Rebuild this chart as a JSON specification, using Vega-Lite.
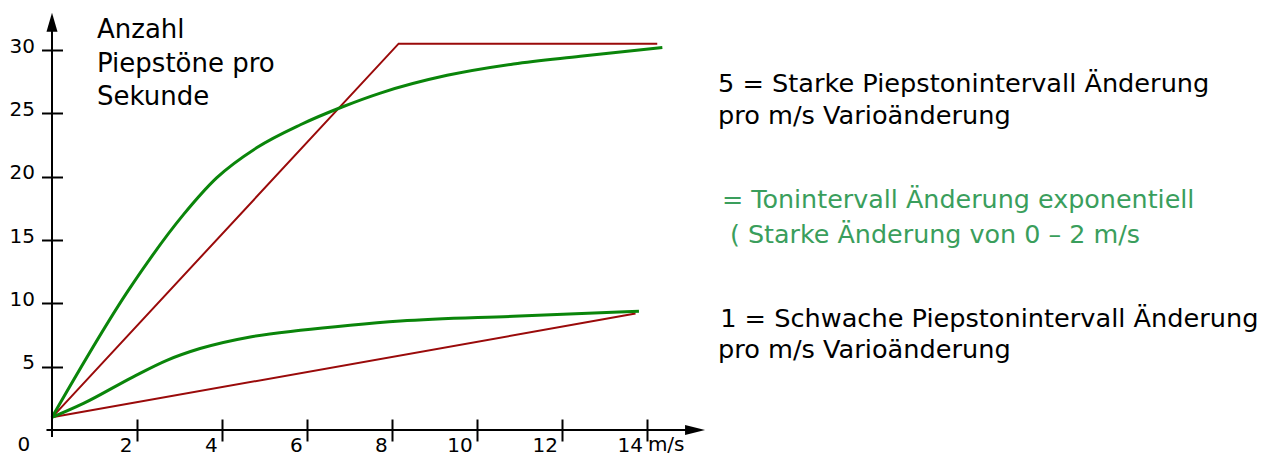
{
  "$schema": "https://vega.github.io/schema/vega-lite/v6.json",
  "width": 655,
  "height": 418,
  "autosize": {"type": "none"},
  "padding": {"left": 52, "top": 12, "right": 570, "bottom": 25},
  "background": "white",
  "config": {"view": {"stroke": null}},
  "datasets": {
    "axes": [
      {"x": 0, "x2": 0, "y": -0.55, "y2": 32.2},
      {"x": -0.13, "x2": 15.12, "y": 0, "y2": 0}
    ],
    "red": [
      {"series": "5 linear", "v": 0, "n": 1},
      {"series": "5 linear", "v": 8.15, "n": 30.5},
      {"series": "5 linear", "v": 14.23, "n": 30.5},
      {"series": "1 linear", "v": 0, "n": 1},
      {"series": "1 linear", "v": 13.72, "n": 9.19}
    ],
    "green": [
      {"series": "5 exp", "v": 0, "n": 1},
      {"series": "5 exp", "v": 1.83, "n": 11.2},
      {"series": "5 exp", "v": 3.09, "n": 17.0},
      {"series": "5 exp", "v": 3.87, "n": 19.9},
      {"series": "5 exp", "v": 4.82, "n": 22.3},
      {"series": "5 exp", "v": 5.84, "n": 24.1},
      {"series": "5 exp", "v": 6.82, "n": 25.5},
      {"series": "5 exp", "v": 7.72, "n": 26.6},
      {"series": "5 exp", "v": 9.29, "n": 28.0},
      {"series": "5 exp", "v": 10.85, "n": 28.9},
      {"series": "5 exp", "v": 12.42, "n": 29.5},
      {"series": "5 exp", "v": 14.35, "n": 30.2},
      {"series": "1 exp", "v": 0, "n": 1},
      {"series": "1 exp", "v": 0.74, "n": 2.1},
      {"series": "1 exp", "v": 1.91, "n": 4.2},
      {"series": "1 exp", "v": 2.7, "n": 5.5},
      {"series": "1 exp", "v": 3.48, "n": 6.43},
      {"series": "1 exp", "v": 4.66, "n": 7.35},
      {"series": "1 exp", "v": 5.84, "n": 7.87},
      {"series": "1 exp", "v": 7.01, "n": 8.27},
      {"series": "1 exp", "v": 8.19, "n": 8.6},
      {"series": "1 exp", "v": 10.85, "n": 8.98},
      {"series": "1 exp", "v": 13.8, "n": 9.37}
    ],
    "yarrow": [{"x": 0, "y": 32.2}],
    "xarrow": [{"x": 15.12, "y": 0}],
    "leftText": [
      {"x": 1.058, "y": 30.95, "t": "Anzahl"},
      {"x": 1.058, "y": 28.3, "t": "Piepstöne pro"},
      {"x": 1.058, "y": 25.66, "t": "Sekunde"}
    ],
    "rightBlack": [
      {"x": 15.66, "y": 26.71, "t": "5 = Starke Piepstonintervall Änderung"},
      {"x": 15.66, "y": 24.16, "t": "pro m/s Varioänderung"},
      {"x": 15.71, "y": 8.16, "t": "1 = Schwache Piepstonintervall Änderung"},
      {"x": 15.66, "y": 5.71, "t": "pro m/s Varioänderung"}
    ],
    "rightGreen": [
      {"x": 15.75, "y": 17.5, "t": "= Tonintervall Änderung exponentiell"},
      {"x": 15.94, "y": 14.74, "t": "( Starke Änderung von 0 – 2 m/s"}
    ],
    "zeroText": [{"x": -0.66, "y": -1.66, "t": "0"}],
    "unitText": [{"x": 14.01, "y": -1.66, "t": "m/s"}]
  },
  "layer": [
    {
      "data": {"name": "red"},
      "mark": {"type": "line", "color": "#9a0a0a", "strokeWidth": 2, "interpolate": "linear"},
      "encoding": {
        "x": {
          "field": "v", "type": "quantitative",
          "scale": {"domain": [0, 15.4], "nice": false, "zero": false},
          "axis": {
            "orient": "bottom", "offset": -11, "domain": false, "grid": false,
            "values": [2, 4, 6, 8, 10, 12, 14],
            "tickSize": 22, "tickWidth": 2, "tickColor": "black",
            "labelAlign": "right", "labelOffset": -5, "labelPadding": 10,
            "labelBaseline": "alphabetic",
            "labelFont": "DejaVu Sans", "labelFontSize": 20, "labelColor": "black",
            "title": null
          }
        },
        "y": {
          "field": "n", "type": "quantitative",
          "scale": {"domain": [0, 33], "nice": false, "zero": false},
          "axis": {
            "orient": "left", "offset": -10.5, "domain": false, "grid": false,
            "values": [5, 10, 15, 20, 25, 30],
            "tickSize": 21, "tickWidth": 2, "tickColor": "black",
            "labelPadding": 7, "labelOffset": -4, "labelBaseline": "middle",
            "labelFont": "DejaVu Sans", "labelFontSize": 20, "labelColor": "black",
            "title": null
          }
        },
        "detail": {"field": "series"}
      }
    },
    {
      "data": {"name": "green"},
      "mark": {"type": "line", "color": "#0a850a", "strokeWidth": 3, "interpolate": "monotone"},
      "encoding": {
        "x": {"field": "v", "type": "quantitative"},
        "y": {"field": "n", "type": "quantitative"},
        "detail": {"field": "series"}
      }
    },
    {
      "data": {"name": "axes"},
      "mark": {"type": "rule", "color": "black", "strokeWidth": 2},
      "encoding": {
        "x": {"field": "x", "type": "quantitative"},
        "x2": {"field": "x2"},
        "y": {"field": "y", "type": "quantitative"},
        "y2": {"field": "y2"}
      }
    },
    {
      "data": {"name": "yarrow"},
      "mark": {"type": "point", "shape": "M0,-1L0.58,1L-0.58,1Z", "size": 361, "filled": true, "color": "black", "opacity": 1, "strokeWidth": 0},
      "encoding": {
        "x": {"field": "x", "type": "quantitative"},
        "y": {"field": "y", "type": "quantitative"}
      }
    },
    {
      "data": {"name": "xarrow"},
      "mark": {"type": "point", "shape": "M1,0L-1,0.5L-1,-0.5Z", "size": 400, "filled": true, "color": "black", "opacity": 1, "strokeWidth": 0},
      "encoding": {
        "x": {"field": "x", "type": "quantitative"},
        "y": {"field": "y", "type": "quantitative"}
      }
    },
    {
      "data": {"name": "leftText"},
      "mark": {"type": "text", "font": "DejaVu Sans", "fontSize": 26, "align": "left", "baseline": "alphabetic", "color": "black"},
      "encoding": {
        "x": {"field": "x", "type": "quantitative"},
        "y": {"field": "y", "type": "quantitative"},
        "text": {"field": "t"}
      }
    },
    {
      "data": {"name": "rightBlack"},
      "mark": {"type": "text", "font": "DejaVu Sans", "fontSize": 25.6, "align": "left", "baseline": "alphabetic", "color": "black"},
      "encoding": {
        "x": {"field": "x", "type": "quantitative"},
        "y": {"field": "y", "type": "quantitative"},
        "text": {"field": "t"}
      }
    },
    {
      "data": {"name": "rightGreen"},
      "mark": {"type": "text", "font": "DejaVu Sans", "fontSize": 25.4, "align": "left", "baseline": "alphabetic", "color": "#3a9e5c"},
      "encoding": {
        "x": {"field": "x", "type": "quantitative"},
        "y": {"field": "y", "type": "quantitative"},
        "text": {"field": "t"}
      }
    },
    {
      "data": {"name": "zeroText"},
      "mark": {"type": "text", "font": "DejaVu Sans", "fontSize": 20, "align": "center", "baseline": "alphabetic", "color": "black"},
      "encoding": {
        "x": {"field": "x", "type": "quantitative"},
        "y": {"field": "y", "type": "quantitative"},
        "text": {"field": "t"}
      }
    },
    {
      "data": {"name": "unitText"},
      "mark": {"type": "text", "font": "DejaVu Sans", "fontSize": 20, "align": "left", "baseline": "alphabetic", "color": "black"},
      "encoding": {
        "x": {"field": "x", "type": "quantitative"},
        "y": {"field": "y", "type": "quantitative"},
        "text": {"field": "t"}
      }
    }
  ]
}
